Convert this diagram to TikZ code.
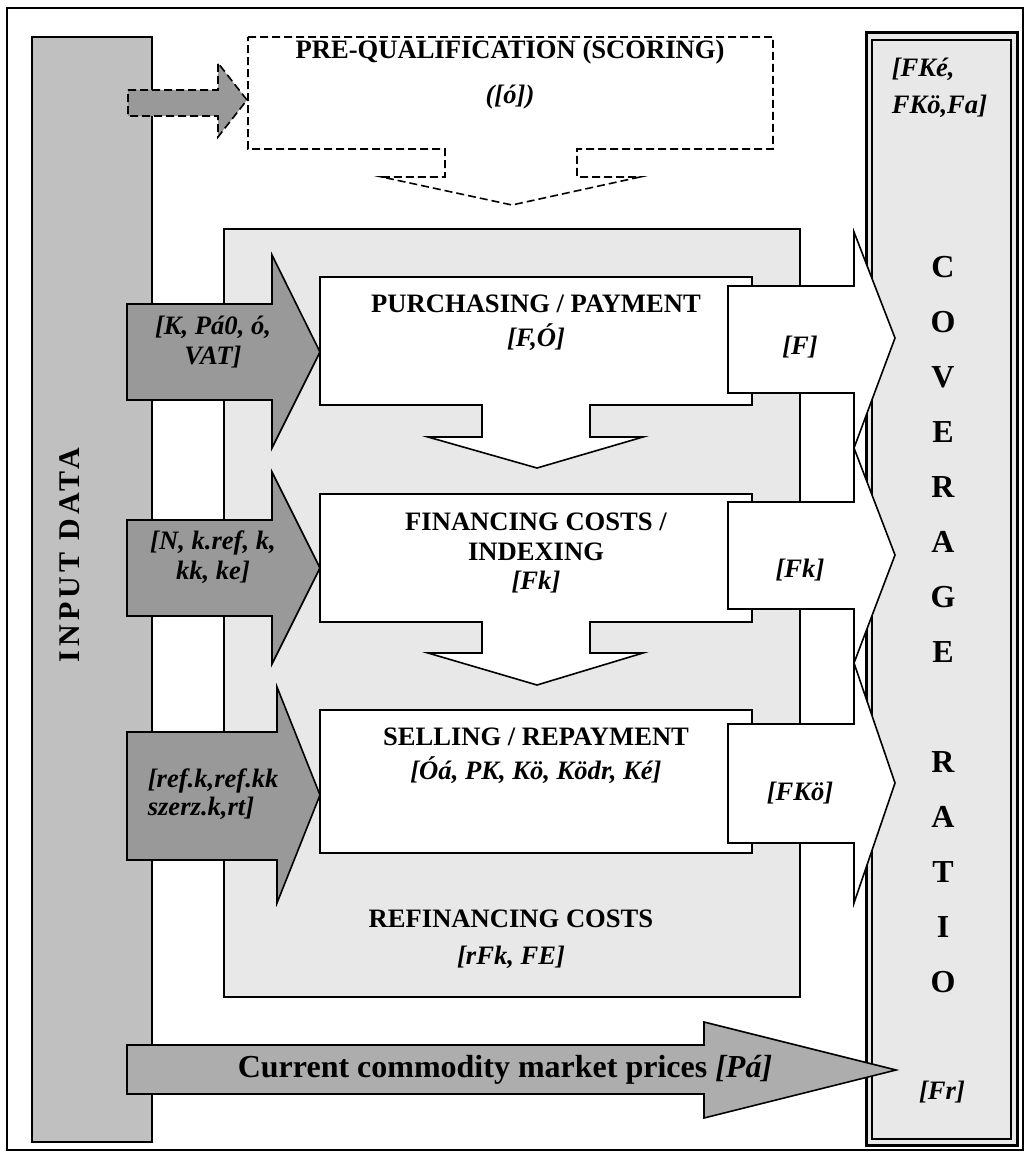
\documentclass[tikz,border=0pt]{standalone}
\usepackage{fontspec}
\setmainfont{Liberation Serif}
\definecolor{inputgray}{HTML}{C0C0C0}
\definecolor{boxgray}{HTML}{E8E8E8}
\definecolor{arrowgray}{HTML}{999999}
\definecolor{pricegray}{HTML}{ADADAD}
\begin{document}
\begin{tikzpicture}[x=0.5pt,y=-0.5pt,line width=0.8pt,
    head/.style={font=\fontsize{13.3}{15}\selectfont\bfseries,inner sep=0pt},
    vars/.style={font=\fontsize{13.3}{15}\selectfont\bfseries\itshape,inner sep=0pt},
    big/.style={font=\fontsize{16}{27.5}\selectfont\bfseries,inner sep=0pt},
    dashline/.style={dash pattern=on 4pt off 2pt}]
        \useasboundingbox (0,0) rectangle (1029,1156);

        \draw[line width=1pt] (7,8) rectangle (1023,1150);

        \draw[fill=inputgray] (32,37) rectangle (152,1142);
        \node[font=\fontsize{15}{18}\selectfont\bfseries,inner sep=0pt,rotate=90] (input) at (70,555) {\addfontfeature{LetterSpace=14}INPUT DATA};

        \draw[dashline,fill=arrowgray] (128,90) -- (218,90) -- (218,63) -- (247,100) -- (218,137) -- (218,116) -- (128,116) -- cycle;
        \draw[dashline,fill=white] (248,37) -- (773,37) -- (773,149) -- (577,149) -- (577,177) -- (640,177) -- (512,205) -- (382,177) -- (445,177) -- (445,149) -- (248,149) -- cycle;
        \node[head] (prequal) at (510,52) {PRE-QUALIFICATION (SCORING)};
        \node[vars] (prequalvar) at (510,97) {([ó])};

        \draw[fill=boxgray] (224,229) rectangle (800,997);
        \node[head] (refin) at (511,919) {REFINANCING COSTS};
        \node[vars] (refinvar) at (511,957) {[rFk, FE]};

        \draw[fill=white] (320,277) -- (752,277) -- (752,405) -- (590,405) -- (590,437) -- (643,437) -- (537,468) -- (428,437) -- (482,437) -- (482,405) -- (320,405) -- cycle;
        \node[head] (purch) at (536,304) {PURCHASING / PAYMENT};
        \node[vars] (purchvar) at (536,337) {[F,Ó]};

        \draw[fill=white] (320,494) -- (752,494) -- (752,622) -- (590,622) -- (590,653) -- (643,653) -- (537,685) -- (428,653) -- (482,653) -- (482,622) -- (320,622) -- cycle;
        \node[head,align=center] (financ) at (536,537) {FINANCING COSTS /\\INDEXING};
        \node[vars] (financvar) at (536,582) {[Fk]};

        \draw[fill=white] (320,710) rectangle (752,853);
        \node[head] (sell) at (536,737) {SELLING / REPAYMENT};
        \node[vars] (sellvar) at (536,770) {[Óá, PK, Kö, Ködr, Ké]};

        \draw[fill=arrowgray] (127,304) -- (272,304) -- (272,255) -- (320,352) -- (272,448) -- (272,400) -- (127,400) -- cycle;
        \node[vars,align=center] (inK) at (213,342) {[K, Pá0, ó,\\VAT]};

        \draw[fill=arrowgray] (127,520) -- (272,520) -- (272,472) -- (320,568) -- (272,664) -- (272,616) -- (127,616) -- cycle;
        \node[vars,align=center] (inN) at (213,557) {[N, k.ref, k,\\kk, ke]};

        \draw[fill=arrowgray] (127,732) -- (277,732) -- (277,687) -- (320,795) -- (277,903) -- (277,860) -- (127,860) -- cycle;
        \node[vars,align=left,anchor=west,font=\fontsize{13.3}{14}\selectfont\bfseries\itshape] (inref) at (147,794) {[ref.k,ref.kk\\szerz.k,rt]};

        \draw[line width=1.5pt,fill=boxgray] (866,33) rectangle (1017,1145);
        \draw[line width=0.7pt] (872,40) rectangle (1011,1139);
        \node[vars,align=left,anchor=west,font=\fontsize{13.3}{18.5}\selectfont\bfseries\itshape] (covvars) at (891,88) {[FKé,\\FKö,Fa]};
        \node[big,align=center] (coverage) at (943,625) {C\\O\\V\\E\\R\\A\\G\\E\\~\\R\\A\\T\\I\\O};
        \node[vars] (covfr) at (942,1092) {[Fr]};

        \draw[fill=white] (728,286) -- (854,286) -- (854,232) -- (895,338) -- (854,448) -- (854,393) -- (728,393) -- cycle;
        \node[vars] (outF) at (800,347) {[F]};

        \draw[fill=white] (728,502) -- (854,502) -- (854,448) -- (895,555) -- (854,663) -- (854,609) -- (728,609) -- cycle;
        \node[vars] (outFk) at (800,570) {[Fk]};

        \draw[fill=white] (728,724) -- (854,724) -- (854,663) -- (895,783) -- (854,903) -- (854,843) -- (728,843) -- cycle;
        \node[vars] (outFKo) at (800,793) {[FKö]};

        \draw[fill=pricegray] (127,1045) -- (704,1045) -- (704,1022) -- (896,1070) -- (704,1118) -- (704,1094) -- (127,1094) -- cycle;
        \node[font=\fontsize{16}{18}\selectfont\bfseries,inner sep=0pt] (prices) at (505,1070) {Current commodity market prices \textit{[Pá]}};

    \end{tikzpicture}
\end{document}
